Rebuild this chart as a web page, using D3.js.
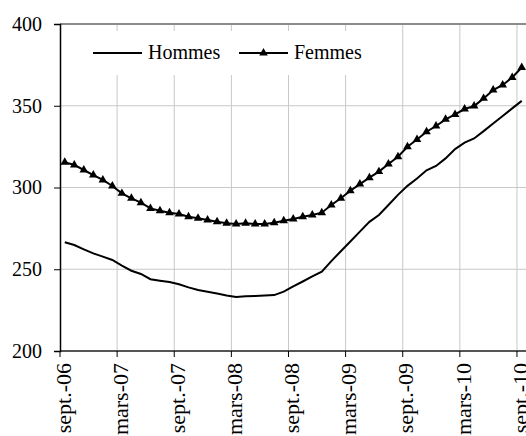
<!DOCTYPE html>
<html>
<head>
    <script src="https://d3js.org/d3.v7.min.js"></script>
    <title>Hommes / Femmes</title>
</head>
<style>
    body {
        margin: 0;
        background-color: white;
        font-family: 'Liberation Serif', 'Times New Roman', serif;
    }
</style>
<body>
<div id="chart"></div>
</body>
</html>

<script>
  // months sept-06 .. sept-10
  var monthNames = ["janv.", "févr.", "mars", "avr.", "mai", "juin", "juil.", "août", "sept.", "oct.", "nov.", "déc."];
  var months = [];
  for (var k = 0; k < 49; k++) {
      var m = (8 + k) % 12;
      var yr = 6 + Math.floor((8 + k) / 12);
      months.push(monthNames[m] + "-" + (yr < 10 ? "0" + yr : yr));
  }

  var tickLabels = ["sept.-06", "mars-07", "sept.-07", "mars-08", "sept.-08",
                    "mars-09", "sept.-09", "mars-10", "sept.-10"];
  var yTicks = [200, 250, 300, 350, 400];

  var hommes = [266.5, 264.8, 262.2, 259.7, 257.7, 255.7, 252.2, 249.1, 247.1, 243.9,
                243.0, 242.2, 240.8, 238.9, 237.3, 236.2, 235.2, 234.0, 233.0, 233.5,
                233.7, 233.9, 234.2, 236.3, 239.5, 242.5, 245.6, 248.5, 255.0, 261.0,
                267.0, 273.0, 279.0, 283.2, 289.3, 295.5, 301.0, 305.5, 310.5, 313.2,
                317.8, 323.5, 327.4, 330.0, 334.5, 339.2, 343.7, 348.4, 353.0];

  var femmes = [315.4, 313.8, 310.7, 307.6, 304.6, 300.9, 296.4, 293.4, 290.7, 287.2,
                285.8, 284.6, 283.8, 282.1, 281.2, 280.1, 279.1, 278.1, 277.7, 278.1,
                277.7, 277.7, 278.5, 279.7, 280.7, 282.1, 283.2, 284.6, 289.3, 293.4,
                298.0, 302.1, 306.0, 309.7, 314.4, 318.8, 324.9, 329.4, 334.1, 337.6,
                341.7, 344.7, 348.0, 349.8, 354.5, 359.6, 362.7, 367.3, 373.4];

  var svg = d3.select("#chart").append("svg")
      .attr("width", 526)
      .attr("height", 436);

  var plotLeft = 60, plotTop = 24, plotBottom = 351;

  var x = d3.scaleBand()
      .domain(months)
      .range([plotLeft, plotLeft + 49 * 9.52]);

  var y = d3.scaleLinear()
      .domain([200, 400])
      .range([plotBottom, plotTop]);

  var bw = x.bandwidth();

  //GRIDLINES
  svg.selectAll(".hgrid")
      .data(yTicks.slice(1, 4))
      .enter()
      .append("line")
      .attr("x1", plotLeft).attr("x2", 526)
      .attr("y1", function(d) { return y(d); })
      .attr("y2", function(d) { return y(d); })
      .attr("stroke", "#c8c8c8")
      .attr("stroke-width", 1);

  svg.selectAll(".vgrid")
      .data(tickLabels.slice(1))
      .enter()
      .append("line")
      .attr("x1", function(d) { return x(d); })
      .attr("x2", function(d) { return x(d); })
      .attr("y1", plotTop).attr("y2", plotBottom)
      .attr("stroke", "#c8c8c8")
      .attr("stroke-width", 1);

  // top border + bottom axis
  svg.append("line")
      .attr("x1", plotLeft).attr("x2", 526)
      .attr("y1", plotTop).attr("y2", plotTop)
      .attr("stroke", "#8c8c8c").attr("stroke-width", 2);

  svg.append("line")
      .attr("x1", plotLeft).attr("x2", 526)
      .attr("y1", plotBottom).attr("y2", plotBottom)
      .attr("stroke", "#555").attr("stroke-width", 2);

  //LEGEND box hides gridlines
  svg.append("rect")
      .attr("x", 84).attr("y", 31)
      .attr("width", 292).attr("height", 44)
      .attr("fill", "white");

  //Y AXIS
  var yAxis = svg.append("g")
      .attr("transform", "translate(" + plotLeft + ",0)")
      .call(d3.axisLeft(y).tickValues(yTicks).tickSize(6).tickPadding(12));
  yAxis.select(".domain").attr("stroke", "black").attr("stroke-width", 1.5);
  yAxis.selectAll(".tick line").attr("stroke", "black");
  yAxis.selectAll("text")
      .style("font-family", "'Liberation Serif', serif")
      .style("font-size", "20px")
      .attr("fill", "black");

  //X AXIS ticks and labels
  svg.selectAll(".xtick")
      .data(tickLabels)
      .enter()
      .append("line")
      .attr("x1", function(d) { return x(d); })
      .attr("x2", function(d) { return x(d); })
      .attr("y1", plotBottom).attr("y2", plotBottom + 6)
      .attr("stroke", "black");

  // labels look a bit stretched along their length in the original
  svg.selectAll(".xlabel")
      .data(tickLabels)
      .enter()
      .append("text")
      .attr("transform", function(d) {
          return "translate(" + (x(d) + bw / 2 - 1) + "," + (plotBottom + 12) + ") rotate(-90) scale(1.1,1)";
      })
      .attr("text-anchor", "end")
      .attr("dy", "0.35em")
      .style("font-size", "20px")
      .text(function(d) { return d; });

  //LINES
  var line = d3.line()
      .x(function(d, i) { return x(months[i]) + bw / 2; })
      .y(function(d) { return y(d); });

  svg.append("path")
      .attr("d", line(hommes))
      .attr("fill", "none")
      .attr("stroke", "black")
      .attr("stroke-width", 2);

  svg.append("path")
      .attr("d", line(femmes))
      .attr("fill", "none")
      .attr("stroke", "black")
      .attr("stroke-width", 2);

  var tri = d3.symbol().type(d3.symbolTriangle).size(32);

  svg.selectAll(".marker")
      .data(femmes)
      .enter()
      .append("path")
      .attr("d", tri)
      .attr("transform", function(d, i) {
          return "translate(" + (x(months[i]) + bw / 2) + "," + y(d) + ")";
      })
      .attr("fill", "black");

  //LEGEND
  var legend = [
      {"name": "Hommes", "x": 93, "marker": false},
      {"name": "Femmes", "x": 239, "marker": true}
  ];

  var lg = svg.selectAll(".legend")
      .data(legend)
      .enter()
      .append("g")
      .attr("transform", function(d) { return "translate(" + d.x + ",53)"; });

  lg.append("line")
      .attr("x1", 0).attr("x2", 49)
      .attr("stroke", "black")
      .attr("stroke-width", 2);

  lg.filter(function(d) { return d.marker; })
      .append("path")
      .attr("d", tri)
      .attr("transform", "translate(24.5,0)")
      .attr("fill", "black");

  lg.append("text")
      .attr("x", 55)
      .attr("dy", "0.32em")
      .style("font-size", "20px")
      .text(function(d) { return d.name; });
</script>
